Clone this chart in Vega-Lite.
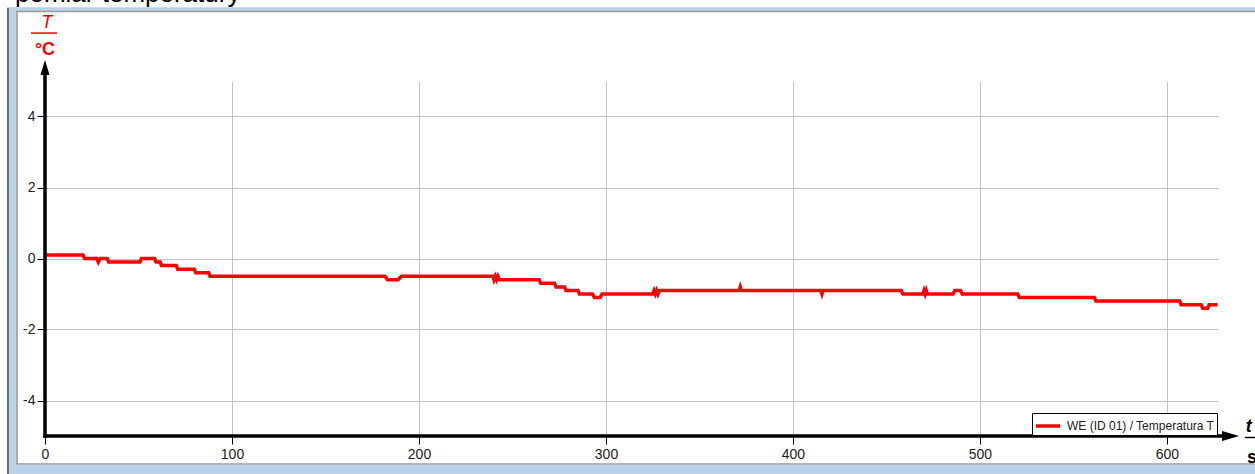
{
  "$schema": "https://vega.github.io/schema/vega-lite/v6.json",
  "width": 1173,
  "height": 355,
  "autosize": "none",
  "padding": {"left": 45, "top": 81, "right": 37, "bottom": 38},
  "background": "white",
  "config": {
    "view": {"stroke": null},
    "axis": {
      "domain": false,
      "grid": true,
      "gridColor": "#c4c4c4",
      "gridWidth": 1,
      "tickColor": "black",
      "tickWidth": 1,
      "tickSize": 8,
      "labelFont": "Liberation Sans",
      "labelFontSize": 14,
      "labelColor": "#222222",
      "labelFlush": false,
      "title": null
    },
    "legend": {
      "orient": "bottom-right",
      "offset": 1,
      "padding": 2,
      "strokeColor": "black",
      "fillColor": "white",
      "cornerRadius": 0,
      "symbolType": "M-1.35,0L1.35,0",
      "symbolSize": 324,
      "symbolStrokeWidth": 3.5,
      "symbolOffset": 3,
      "labelFont": "Liberation Sans",
      "labelFontSize": 12,
      "labelColor": "#222222",
      "labelOffset": 8,
      "title": null
    }
  },
  "layer": [
    {
      "data": {"values": [{}]},
      "mark": {"type": "rect", "color": "#bcd2ea", "clip": false},
      "encoding": {
        "x": {"datum": -19.25, "type": "quantitative"},
        "x2": {"datum": -14.97},
        "y": {"datum": 7.08, "type": "quantitative"},
        "y2": {"datum": -6.5}
      }
    },
    {
      "data": {"values": [{}]},
      "mark": {"type": "rect", "color": "#bcd2ea", "clip": false},
      "encoding": {
        "x": {"datum": -19.25, "type": "quantitative"},
        "x2": {"datum": 680},
        "y": {"datum": 7.08, "type": "quantitative"},
        "y2": {"datum": 6.97}
      }
    },
    {
      "data": {"values": [{}]},
      "mark": {"type": "rect", "color": "#bcd2ea", "clip": false},
      "encoding": {
        "x": {"datum": -19.25, "type": "quantitative"},
        "x2": {"datum": 680},
        "y": {"datum": -5.82, "type": "quantitative"},
        "y2": {"datum": -6.5}
      }
    },
    {
      "data": {"values": [{}]},
      "mark": {"type": "rect", "filled": false, "color": "#9a9a9a", "strokeWidth": 1.5, "clip": false},
      "encoding": {
        "x": {"datum": -14.97, "type": "quantitative"},
        "x2": {"datum": 680},
        "y": {"datum": 6.96, "type": "quantitative"},
        "y2": {"datum": -5.79}
      }
    },
    {
      "data": {"values": [{}]},
      "mark": {"type": "rule", "color": "#404040", "strokeWidth": 1.5, "clip": false},
      "encoding": {
        "x": {"datum": -19.8, "type": "quantitative"},
        "y": {"datum": 7.06, "type": "quantitative"},
        "y2": {"datum": -6.5}
      }
    },
    {
      "data": {
        "values": [
          {"time": 0, "temp": 0.1},
          {"time": 20.3, "temp": 0.1},
          {"time": 21.2, "temp": 0.0},
          {"time": 27.6, "temp": 0.0},
          {"time": 28.5, "temp": -0.1},
          {"time": 29.4, "temp": 0.0},
          {"time": 33.3, "temp": 0.0},
          {"time": 34.0, "temp": -0.1},
          {"time": 50.8, "temp": -0.1},
          {"time": 51.6, "temp": 0.0},
          {"time": 58.6, "temp": 0.0},
          {"time": 59.4, "temp": -0.1},
          {"time": 61.6, "temp": -0.1},
          {"time": 62.3, "temp": -0.2},
          {"time": 70.2, "temp": -0.2},
          {"time": 71.0, "temp": -0.3},
          {"time": 79.8, "temp": -0.3},
          {"time": 80.6, "temp": -0.4},
          {"time": 87.5, "temp": -0.4},
          {"time": 88.3, "temp": -0.5},
          {"time": 181.8, "temp": -0.5},
          {"time": 183.2, "temp": -0.6},
          {"time": 188.8, "temp": -0.6},
          {"time": 190.6, "temp": -0.5},
          {"time": 239.5, "temp": -0.5},
          {"time": 240.1, "temp": -0.6},
          {"time": 240.8, "temp": -0.5},
          {"time": 241.5, "temp": -0.6},
          {"time": 242.2, "temp": -0.5},
          {"time": 243.0, "temp": -0.6},
          {"time": 264.3, "temp": -0.6},
          {"time": 265.1, "temp": -0.7},
          {"time": 272.5, "temp": -0.7},
          {"time": 273.3, "temp": -0.8},
          {"time": 277.8, "temp": -0.8},
          {"time": 278.6, "temp": -0.9},
          {"time": 285.0, "temp": -0.9},
          {"time": 285.8, "temp": -1.0},
          {"time": 292.8, "temp": -1.0},
          {"time": 293.8, "temp": -1.1},
          {"time": 296.9, "temp": -1.1},
          {"time": 297.9, "temp": -1.0},
          {"time": 325.0, "temp": -1.0},
          {"time": 325.7, "temp": -0.9},
          {"time": 326.4, "temp": -1.0},
          {"time": 327.1, "temp": -0.9},
          {"time": 327.8, "temp": -1.0},
          {"time": 328.5, "temp": -0.9},
          {"time": 371.2, "temp": -0.9},
          {"time": 371.8, "temp": -0.8},
          {"time": 372.4, "temp": -0.9},
          {"time": 414.9, "temp": -0.9},
          {"time": 415.5, "temp": -1.0},
          {"time": 416.1, "temp": -0.9},
          {"time": 457.8, "temp": -0.9},
          {"time": 458.8, "temp": -1.0},
          {"time": 469.5, "temp": -1.0},
          {"time": 470.1, "temp": -0.9},
          {"time": 470.7, "temp": -1.0},
          {"time": 471.3, "temp": -0.9},
          {"time": 471.9, "temp": -1.0},
          {"time": 485.6, "temp": -1.0},
          {"time": 486.6, "temp": -0.9},
          {"time": 489.6, "temp": -0.9},
          {"time": 490.5, "temp": -1.0},
          {"time": 520.2, "temp": -1.0},
          {"time": 521.0, "temp": -1.1},
          {"time": 561.2, "temp": -1.1},
          {"time": 562.0, "temp": -1.2},
          {"time": 606.8, "temp": -1.2},
          {"time": 607.6, "temp": -1.3},
          {"time": 618.3, "temp": -1.3},
          {"time": 619.1, "temp": -1.4},
          {"time": 621.8, "temp": -1.4},
          {"time": 622.6, "temp": -1.3},
          {"time": 627.0, "temp": -1.3}
        ]
      },
      "mark": {"type": "line", "strokeWidth": 3.5, "clip": true},
      "encoding": {
        "x": {
          "field": "time",
          "type": "quantitative",
          "scale": {"domain": [0, 627.3], "nice": false, "zero": false},
          "axis": {"values": [0, 100, 200, 300, 400, 500, 600], "labelPadding": 3, "format": "d"}
        },
        "y": {
          "field": "temp",
          "type": "quantitative",
          "scale": {"domain": [-5, 5], "nice": false},
          "axis": {"values": [-4, -2, 0, 2, 4], "labelExpr": "toString(datum.value)", "labelPadding": 2}
        },
        "color": {
          "datum": "WE (ID 01) / Temperatura T",
          "type": "nominal",
          "scale": {"range": ["#ff0000"]}
        }
      }
    },
    {
      "data": {"values": [{}]},
      "mark": {"type": "rule", "color": "black", "strokeWidth": 3.5, "clip": false},
      "encoding": {
        "x": {"datum": 0, "type": "quantitative"},
        "y": {"datum": -5.05, "type": "quantitative"},
        "y2": {"datum": 5.2}
      }
    },
    {
      "data": {"values": [{}]},
      "mark": {"type": "rule", "color": "black", "strokeWidth": 3.5, "clip": false},
      "encoding": {
        "y": {"datum": -5, "type": "quantitative"},
        "x": {"datum": -0.9, "type": "quantitative"},
        "x2": {"datum": 630}
      }
    },
    {
      "data": {"values": [{}]},
      "mark": {"type": "point", "shape": "M0,-1L0.6,1L-0.6,1Z", "filled": true, "color": "black", "opacity": 1, "size": 225, "clip": false},
      "encoding": {
        "x": {"datum": 0, "type": "quantitative"},
        "y": {"datum": 5.38, "type": "quantitative"}
      }
    },
    {
      "data": {"values": [{}]},
      "mark": {"type": "point", "shape": "M1,0L-1,-0.6L-1,0.6Z", "filled": true, "color": "black", "opacity": 1, "size": 289, "clip": false},
      "encoding": {
        "x": {"datum": 634, "type": "quantitative"},
        "y": {"datum": -5, "type": "quantitative"}
      }
    },
    {
      "data": {"values": [{}]},
      "mark": {"type": "text", "text": "T", "font": "Liberation Sans", "fontSize": 18, "fontStyle": "italic", "color": "#ff0000", "align": "center", "baseline": "alphabetic", "clip": false},
      "encoding": {
        "x": {"datum": 1.07, "type": "quantitative"},
        "y": {"datum": 6.49, "type": "quantitative"}
      }
    },
    {
      "data": {"values": [{}]},
      "mark": {"type": "rule", "color": "#ff0000", "strokeWidth": 1.5, "clip": false},
      "encoding": {
        "x": {"datum": -7.49, "type": "quantitative"},
        "x2": {"datum": 6.42},
        "y": {"datum": 6.35, "type": "quantitative"}
      }
    },
    {
      "data": {"values": [{}]},
      "mark": {"type": "text", "text": "°C", "font": "Liberation Sans", "fontSize": 18, "fontWeight": "bold", "color": "#ff0000", "align": "center", "baseline": "alphabetic", "clip": false},
      "encoding": {
        "x": {"datum": 0, "type": "quantitative"},
        "y": {"datum": 5.73, "type": "quantitative"}
      }
    },
    {
      "data": {"values": [{}]},
      "mark": {"type": "text", "text": "t", "font": "Liberation Sans", "fontSize": 18, "fontStyle": "italic", "fontWeight": "bold", "color": "black", "align": "left", "baseline": "alphabetic", "clip": false},
      "encoding": {
        "x": {"datum": 642.2, "type": "quantitative"},
        "y": {"datum": -4.89, "type": "quantitative"}
      }
    },
    {
      "data": {"values": [{}]},
      "mark": {"type": "rule", "color": "black", "strokeWidth": 1.5, "clip": false},
      "encoding": {
        "x": {"datum": 641.7, "type": "quantitative"},
        "x2": {"datum": 660},
        "y": {"datum": -5.04, "type": "quantitative"}
      }
    },
    {
      "data": {"values": [{}]},
      "mark": {"type": "text", "text": "s", "font": "Liberation Sans", "fontSize": 18, "fontWeight": "bold", "color": "black", "align": "left", "baseline": "alphabetic", "clip": false},
      "encoding": {
        "x": {"datum": 642.8, "type": "quantitative"},
        "y": {"datum": -5.77, "type": "quantitative"}
      }
    },
    {
      "data": {"values": [{}]},
      "mark": {"type": "text", "text": "pomiar temperatury", "font": "Liberation Sans", "fontSize": 26, "color": "black", "align": "left", "baseline": "alphabetic", "clip": false},
      "encoding": {
        "x": {"datum": -16.04, "type": "quantitative"},
        "y": {"datum": 7.23, "type": "quantitative"}
      }
    }
  ]
}
